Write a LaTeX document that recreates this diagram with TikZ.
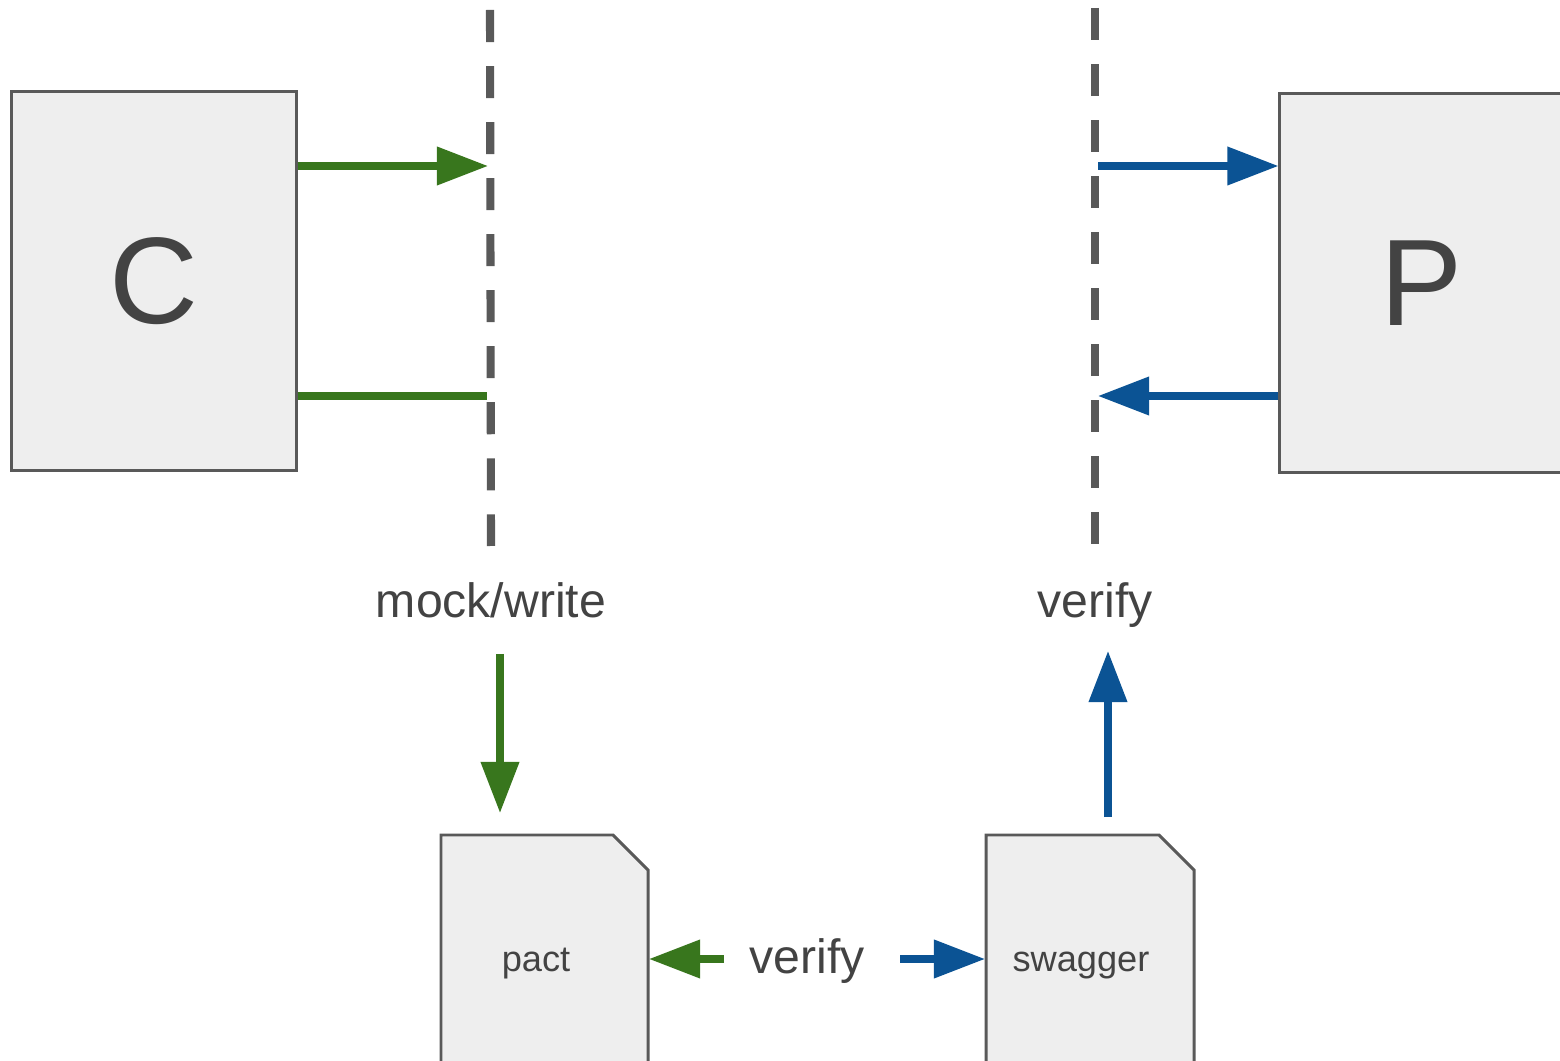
\documentclass[tikz,border=0pt]{standalone}
\usepackage{fontspec}
\setmainfont{Liberation Sans}
\usetikzlibrary{arrows.meta}
\definecolor{vert}{HTML}{38761D}
\definecolor{bleu}{HTML}{0B5394}
\definecolor{gris}{HTML}{595959}
\definecolor{fond}{HTML}{EEEEEE}
\definecolor{texte}{HTML}{434343}

\begin{document}
\begin{tikzpicture}[x=0.01cm,y=-0.01cm,
    boite/.style={draw=gris,fill=fond,line width=0.85pt,minimum width=2.84cm,minimum height=3.79cm,inner sep=0pt,text=texte,font=\fontsize{35}{38}\selectfont},
    etiquette/.style={text=texte,inner sep=0pt,anchor=base,font=\fontsize{13.7}{16}\selectfont},
    petite/.style={text=texte,inner sep=0pt,anchor=base,font=\fontsize{10.3}{12}\selectfont},
    frontiere/.style={gris,line width=2.3pt,dash pattern=on 0.32cm off 0.24cm},
    doc/.style={draw=gris,fill=fond,line width=0.85pt},
    flecheverte/.style={vert,line width=2pt,-{Triangle[length=0.51cm,width=0.37cm]}},
    flechebleue/.style={bleu,line width=2pt,-{Triangle[length=0.51cm,width=0.37cm]}}]

\useasboundingbox (0,0) rectangle (1560,1061);
\clip (0,0) rectangle (1560,1061);

% le consommateur et le fournisseur
\node[boite] (C) at (154,281) {C};
\node[boite] (P) at (1422,283) {P};

% les deux frontieres en pointilles
\coordinate (mockH) at (490,10);
\coordinate (mockB) at (491,546);
\coordinate (verifH) at (1095,8);
\coordinate (verifB) at (1095,544);
\draw[frontiere] (mockH) -- (mockB);
\draw[frontiere] (verifH) -- (verifB);

% echanges avec les frontieres
\coordinate (mockA) at (488,166);
\coordinate (mockR) at (487,396);
\coordinate (verifA) at (1098,166);
\coordinate (verifR) at (1098,396);
\draw[flecheverte] (C.east |- mockA) -- (mockA);
\draw[vert,line width=2pt] (C.east |- mockR) -- (mockR);
\draw[flechebleue] (verifA) -- (P.west |- verifA);
\draw[flechebleue] (P.west |- verifR) -- (verifR);

% etiquettes sous les frontieres
\node[etiquette] (mock) at (491,617) {mock/write};
\node[etiquette] (verif) at (1095,617) {verify};

% les documents (coin replie)
\draw[doc] (441,1080) -- (441,835) -- (613,835) -- (648,870) -- (648,1080);
\draw[doc] (986,1080) -- (986,835) -- (1159,835) -- (1194,870) -- (1194,1080);
\node[petite] (pact) at (536,971) {pact};
\node[petite] (swagger) at (1081,971) {swagger};
\node[etiquette] (verifDoc) at (807,973) {verify};

% fleches vers et depuis les documents
\coordinate (ecrire) at (500,654);
\coordinate (pactH) at (500,813);
\coordinate (swaggerH) at (1108,817);
\coordinate (lire) at (1108,651);
\draw[flecheverte] (ecrire) -- (pactH);
\draw[flechebleue] (swaggerH) -- (lire);
\coordinate (pactE) at (649,959);
\coordinate (swaggerO) at (985,959);
\draw[flecheverte] (724,959) -- (pactE);
\draw[flechebleue] (900,959) -- (swaggerO);

\end{tikzpicture}
\end{document}
